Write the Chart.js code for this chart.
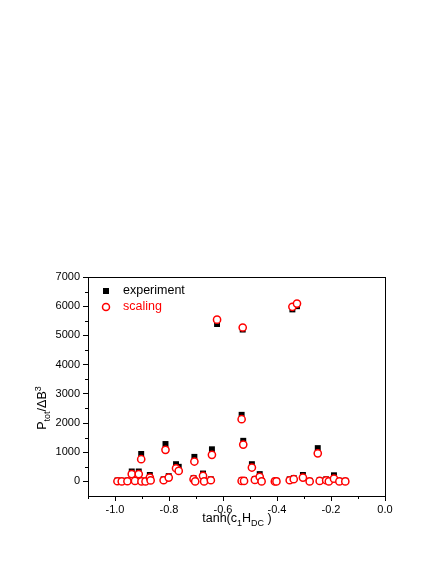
<!DOCTYPE html>
<html>
<head>
<meta charset="utf-8">
<script src="https://cdn.jsdelivr.net/npm/chart.js@4/dist/chart.umd.min.js"></script>
<style>
  html, body { margin: 0; padding: 0; background: #fff; }
  #wrap { width: 436px; height: 564px; position: relative; }
</style>
</head>
<body>
<div id="wrap"><canvas id="c" width="436" height="564"></canvas></div>
<script>
'use strict';

// tanh(c1 Hdc) positions of the measured points
const xVals = [-0.991, -0.975, -0.954, -0.938, -0.926, -0.912, -0.902, -0.903, -0.887, -0.871,
    -0.868, -0.820, -0.813, -0.801, -0.774, -0.764, -0.709, -0.706, -0.703, -0.674,
    -0.670, -0.645, -0.641, -0.622, -0.531, -0.531, -0.525, -0.527, -0.522, -0.493,
    -0.482, -0.464, -0.457, -0.408, -0.402, -0.353, -0.343, -0.338, -0.326, -0.304,
    -0.279, -0.249, -0.242, -0.218, -0.208, -0.189, -0.169, -0.147];

const experimentVals = [30, 20, 30, 340, 40, 340, 20, 940, 20, 220,
    60, 70, 1280, 180, 590, 500, 110, 840, 20, 270,
    20, 70, 1100, 5390, 40, 2280, 1390, 5200, 40, 590,
    80, 250, 20, 20, 20, 70, 5890, 110, 6000, 220,
    20, 1140, 40, 70, 20, 210, 20, 20];

const scalingVals = [5, 0, 5, 250, 15, 250, 0, 760, 0, 130,
    35, 40, 1080, 130, 450, 360, 75, 680, 0, 190,
    0, 40, 910, 5540, 15, 2130, 1260, 5270, 15, 475,
    50, 155, 0, 0, 0, 40, 5980, 75, 6090, 130,
    0, 960, 15, 40, 0, 95, 0, 0];

const xMinorTicks = [-1.1, -0.9, -0.7, -0.5, -0.3, -0.1];
const yMinorTicks = [500, 1500, 2500, 3500, 4500, 5500, 6500];

const FONT = '"Liberation Sans", Arial, sans-serif';

function toPoints(ys) {
    return xVals.map((x, i) => ({ x, y: ys[i] }));
}

// draws text runs with sub/superscripts, centred on (0,0)
function drawRich(ctx, runs, size) {
    const small = Math.round(size * 0.7);
    let total = 0;
    runs.forEach(r => {
        ctx.font = (r.sub || r.sup ? small : size) + 'px ' + FONT;
        r.w = ctx.measureText(r.t).width;
        total += r.w;
    });
    let x = -total / 2;
    ctx.textBaseline = 'alphabetic';
    ctx.textAlign = 'left';
    runs.forEach(r => {
        ctx.font = (r.sub || r.sup ? small : size) + 'px ' + FONT;
        let dy = size * 0.35;
        if (r.sub) dy += size * 0.25;
        if (r.sup) dy -= size * 0.4;
        ctx.fillText(r.t, x, dy);
        x += r.w;
    });
}

const framePlugin = {
    id: 'frame',
    afterDraw(chart) {
        const { ctx, chartArea: a, scales } = chart;
        ctx.save();
        ctx.strokeStyle = '#000';
        ctx.lineWidth = 1;
        ctx.strokeRect(a.left + 0.5, a.top + 0.5, a.right - a.left, a.bottom - a.top);

        // minor ticks
        ctx.beginPath();
        xMinorTicks.forEach(v => {
            const px = Math.round(scales.x.getPixelForValue(v)) + 0.5;
            ctx.moveTo(px, a.bottom);
            ctx.lineTo(px, a.bottom + 3);
        });
        yMinorTicks.forEach(v => {
            const py = Math.round(scales.y.getPixelForValue(v)) + 0.5;
            ctx.moveTo(a.left, py);
            ctx.lineTo(a.left - 3, py);
        });
        ctx.stroke();

        // legend
        ctx.fillStyle = '#000';
        ctx.fillRect(103, 288, 6, 6);
        ctx.beginPath();
        ctx.arc(106, 307, 3.5, 0, Math.PI * 2);
        ctx.fillStyle = '#fff';
        ctx.fill();
        ctx.strokeStyle = '#ff0000';
        ctx.lineWidth = 1.5;
        ctx.stroke();
        ctx.font = '12.5px ' + FONT;
        ctx.textBaseline = 'middle';
        ctx.textAlign = 'left';
        ctx.fillStyle = '#000';
        ctx.fillText('experiment', 123, 291);
        ctx.fillStyle = '#ff0000';
        ctx.fillText('scaling', 123, 307);

        // axis titles
        ctx.fillStyle = '#000';
        ctx.save();
        ctx.translate(237, 518);
        drawRich(ctx, [{ t: 'tanh(c' }, { t: '1', sub: true }, { t: 'H' }, { t: 'DC', sub: true }, { t: ' )' }], 12.5);
        ctx.restore();
        ctx.save();
        ctx.translate(42, 408);
        ctx.rotate(-Math.PI / 2);
        drawRich(ctx, [{ t: 'P' }, { t: 'tot', sub: true }, { t: '/\u0394B' }, { t: '3', sup: true }], 12.5);
        ctx.restore();
        ctx.restore();
    }
};

function keepMultiples(step) {
    return scale => {
        scale.ticks = scale.ticks.filter(t => Math.abs(t.value / step - Math.round(t.value / step)) < 1e-6);
    };
}

const tickFont = { family: FONT, size: 11 };

new Chart(document.getElementById('c'), {
    type: 'scatter',
    data: {
        datasets: [
            {
                label: 'scaling',
                data: toPoints(scalingVals),
                pointStyle: 'circle',
                pointRadius: 3.6,
                pointBorderWidth: 1.5,
                borderColor: '#ff0000',
                backgroundColor: '#ffffff',
                order: 0
            },
            {
                label: 'experiment',
                data: toPoints(experimentVals),
                pointStyle: 'rect',
                pointRadius: 4.2,
                pointBorderWidth: 0,
                borderColor: '#000',
                backgroundColor: '#000',
                order: 1
            }
        ]
    },
    options: {
        responsive: false,
        animation: false,
        layout: { padding: { left: 38, right: 51, top: 277, bottom: 38 } },
        plugins: { legend: { display: false }, tooltip: { enabled: false } },
        scales: {
            x: {
                type: 'linear',
                min: -1.1,
                max: 0,
                afterBuildTicks: keepMultiples(0.2),
                afterFit: s => { s.height = 30; },
                ticks: {
                    stepSize: 0.1,
                    color: '#000',
                    font: tickFont,
                    padding: 2,
                    maxRotation: 0,
                    callback: v => v.toFixed(1)
                },
                grid: { drawOnChartArea: false, tickLength: 5, color: '#000', tickColor: '#000' },
                border: { color: '#000', width: 1 }
            },
            y: {
                type: 'linear',
                min: -500,
                max: 7000,
                afterBuildTicks: keepMultiples(1000),
                afterFit: s => { s.width = 50; },
                ticks: {
                    stepSize: 500,
                    color: '#000',
                    font: tickFont,
                    padding: 3,
                    callback: v => String(v)
                },
                grid: { drawOnChartArea: false, tickLength: 5, color: '#000', tickColor: '#000' },
                border: { color: '#000', width: 1 }
            }
        }
    },
    plugins: [framePlugin]
});
</script>
</body>
</html>
